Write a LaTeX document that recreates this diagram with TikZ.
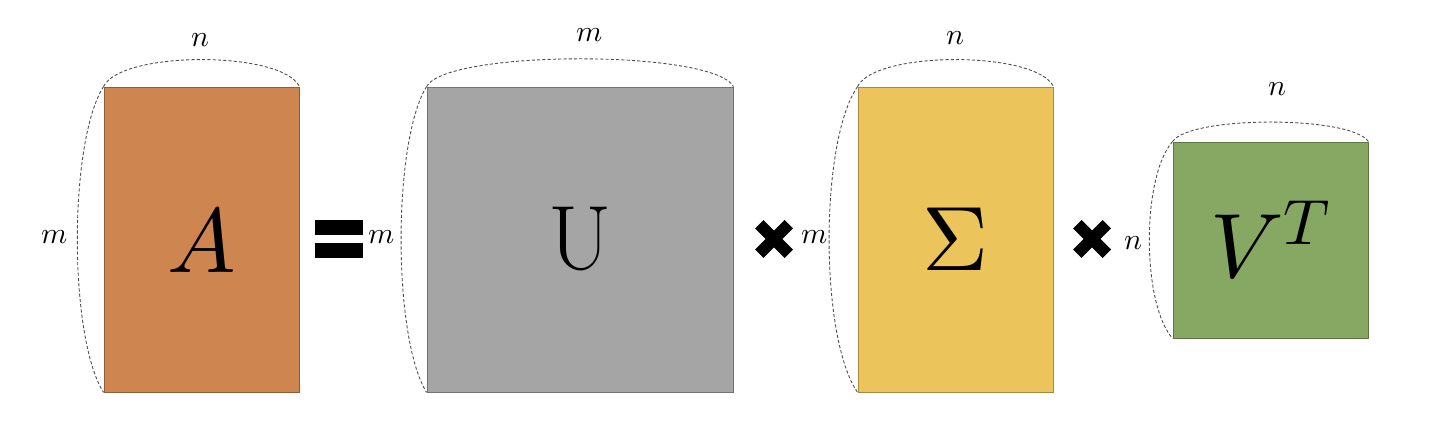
\documentclass[tikz,border=0pt]{standalone}
\usepackage{amsmath}
\usepackage{unicode-math}
\definecolor{orA}{HTML}{CF8550}
\definecolor{grU}{HTML}{A5A5A5}
\definecolor{yeS}{HTML}{ECC45C}
\definecolor{grV}{HTML}{87A862}

\begin{document}
\begin{tikzpicture}[mat/.style={rectangle, draw=#1!70!black, fill=#1, line width=0.5pt, inner sep=0pt, minimum width=3.9cm, minimum height=6.1cm, font=\fontsize{52}{60}\selectfont},
    dim/.style={inner sep=1pt, font=\fontsize{17}{19}\selectfont},
    brace/.style={gray!60!black, line width=0.5pt, dash pattern=on 1.8pt off 1.2pt},
    times/.style={line width=0.24cm}]
    \useasboundingbox (0,0) rectangle (28.8,8.72);
    \node[mat=orA] (A) at (4.03,3.93) {$A$};
    \node[mat=grU, minimum width=6.12cm] (U) at (11.6,3.93) {$\mathrm{U}$};
    \node[mat=yeS] (S) at (19.11,3.93) {$\Sigma$};
    \node[mat=grV, minimum height=3.92cm] (V) at (25.41,3.92) {$V^{T}$};
    % dimensions
    \node[dim] (An) at (4.0,7.92) {$n$};
    \node[dim] (Am) at (1.1,3.98) {$m$};
    \node[dim] (Um) at (11.8,8.02) {$m$};
    \node[dim] (Ul) at (7.64,3.98) {$m$};
    \node[dim] (Sn) at (19.1,7.96) {$n$};
    \node[dim] (Sm) at (16.3,3.98) {$m$};
    \node[dim] (Vn) at (25.54,6.94) {$n$};
    \node[dim] (Vl) at (22.66,3.86) {$n$};
        \draw[brace] (A.north west) .. controls +(0.35,0.72) and +(-0.35,0.72) .. (A.north east);
        \draw[brace] (A.north west) .. controls +(-0.7,-1.1) and +(-0.7,1.1) .. (A.south west);
        \draw[brace] (U.north west) .. controls +(0.4,0.74) and +(-0.4,0.74) .. (U.north east);
        \draw[brace] (U.north west) .. controls +(-0.68,-1.1) and +(-0.68,1.1) .. (U.south west);
        \draw[brace] (S.north west) .. controls +(0.35,0.72) and +(-0.35,0.72) .. (S.north east);
        \draw[brace] (S.north west) .. controls +(-0.76,-1.1) and +(-0.76,1.1) .. (S.south west);
        \draw[brace] (V.north west) .. controls +(0.35,0.52) and +(-0.35,0.52) .. (V.north east);
        \draw[brace] (V.north west) .. controls +(-0.62,-0.7) and +(-0.62,0.7) .. (V.south west);
    % operators
    \fill (6.3,4.02) rectangle (7.26,4.32);
    \fill (6.3,3.56) rectangle (7.26,3.86);
    \draw[times] (15.185,3.645) -- (15.775,4.235) (15.185,4.235) -- (15.775,3.645);
    \draw[times] (21.545,3.645) -- (22.135,4.235) (21.545,4.235) -- (22.135,3.645);
\end{tikzpicture}
\end{document}
